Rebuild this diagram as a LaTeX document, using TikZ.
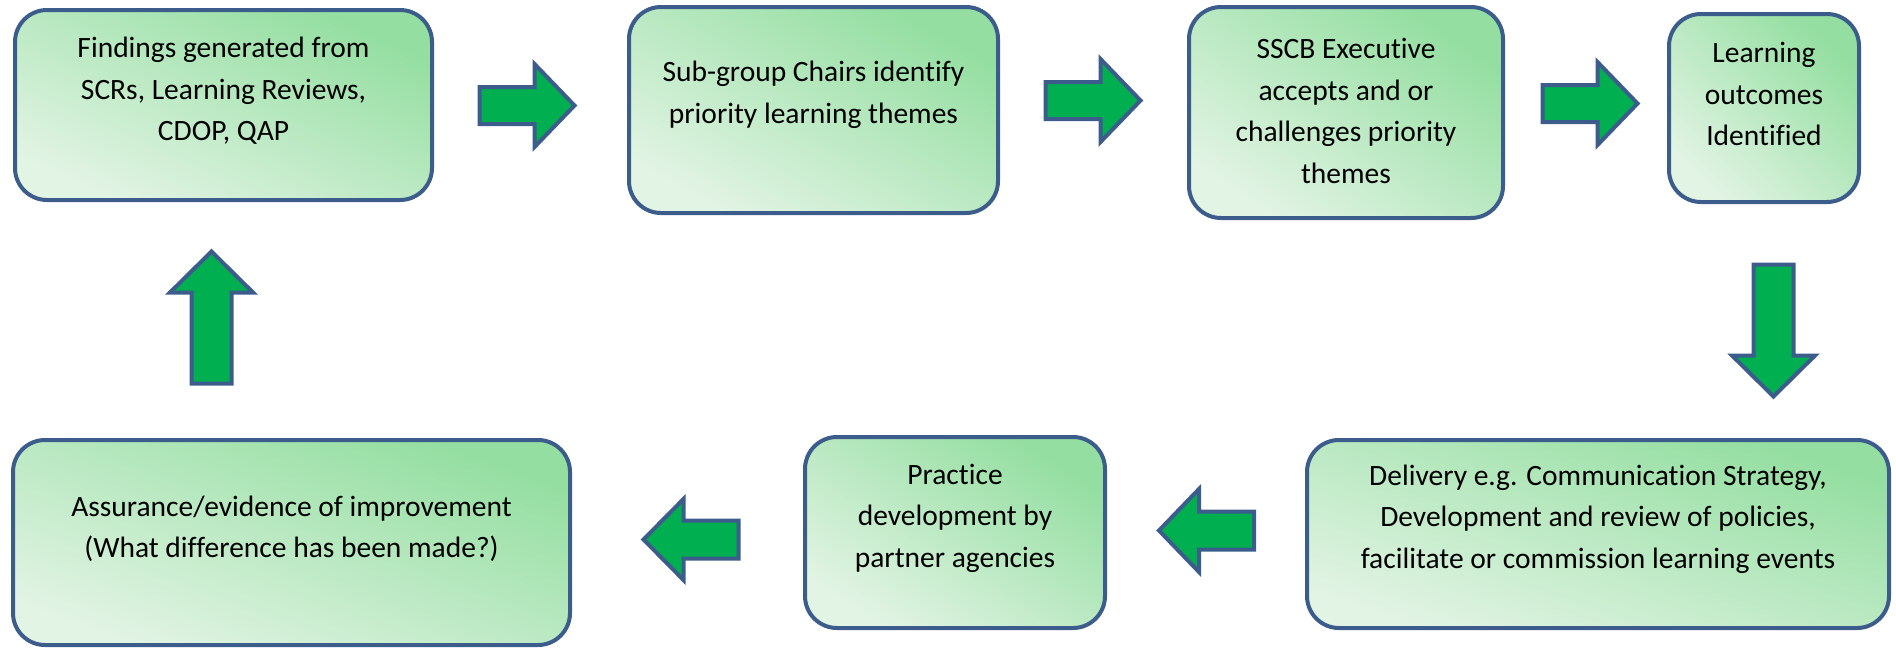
\documentclass[tikz,border=0pt]{standalone}
\usepackage{fontspec}
\setmainfont{Carlito}[Ligatures={NoCommon,NoContextual,NoRequired},RawFeature=-calt]
\definecolor{edge}{HTML}{3C5D8C}
\definecolor{gdark}{HTML}{93DEA0}
\definecolor{glight}{HTML}{E2F4E4}
\definecolor{arrowgreen}{HTML}{00B050}
\begin{document}
\begin{tikzpicture}[x=1pt,y=-1pt,
  stage/.style={draw=edge, line width=4pt, rounded corners=32pt,
    top color=gdark, bottom color=glight, shading angle=#1,
    inner sep=0pt},
  steptext/.style={font=\fontsize{29.5}{41.5}\selectfont, align=center,
    text=black, inner sep=0pt},
  arrowpaint/.style={draw=edge, fill=arrowgreen, line width=4pt, line join=miter},
  % block arrow pointing along +x: length, head width, shaft width, head length
  pics/blockarrow/.style n args={4}{code={
    \draw[arrowpaint] ({-#1/2},{-#3/2}) -- ({#1/2-#4},{-#3/2}) -- ({#1/2-#4},{-#2/2})
      -- ({#1/2},0) -- ({#1/2-#4},{#2/2}) -- ({#1/2-#4},{#3/2}) -- ({-#1/2},{#3/2}) -- cycle;
  }}]
\useasboundingbox (0,0) rectangle (1896,648);

% stage boxes (gradient runs from the lower left to the upper right corner)
\node[stage=-24, minimum width=417pt, minimum height=190pt] (b1) at (223.5,105) {};
\node[stage=-29, minimum width=369pt, minimum height=206pt] (b2) at (813.5,110) {};
\node[stage=-34, minimum width=314pt, minimum height=211pt] (b3) at (1346,112.5) {};
\node[stage=-45, minimum width=190pt, minimum height=188pt] (b4) at (1764,108) {};
\node[stage=-18, minimum width=582pt, minimum height=188pt] (b5) at (1598,534) {};
\node[stage=-32, minimum width=300pt, minimum height=191pt] (b6) at (955,532.5) {};
\node[stage=-20, minimum width=557pt, minimum height=205pt] (b7) at (291.5,542.5) {};

% stage texts
\node[steptext] (t1) at (223.5,91) {Findings generated from\\SCRs, Learning Reviews,\\CDOP, QAP};
\node[steptext] (t2) at (813.5,95) {Sub-group Chairs identify\\priority learning themes};
\node[steptext] (t3) at (1346,111) {SSCB Executive\\accepts and or\\challenges priority\\themes};
\node[steptext] (t4) at (1764,94) {Learning\\outcomes\\Identified};
\node[steptext] (t5) at (1598,519) {Delivery e.g. Communication Strategy,\\Development and review of policies,\\facilitate or commission learning events};
\node[steptext] (t6) at (955,518) {Practice\\development by\\partner agencies};
\node[steptext] (t7) at (291.5,529) {Assurance/evidence of improvement\\(What difference has been made?)};

% flow arrows
\pic at (527,105.5) {blockarrow={95}{83}{37}{40}};
\pic at (1093,100.5) {blockarrow={95}{83}{37}{40}};
\pic at (1590,103.5) {blockarrow={95}{83}{37}{40}};
\pic[rotate=-90] at (1773.5,330.5) {blockarrow={132}{83}{40}{41}};
\pic[rotate=180] at (1206.5,530.5) {blockarrow={95}{83}{38}{40}};
\pic[rotate=180] at (691,539.5) {blockarrow={95}{81}{38}{40}};
\pic[rotate=90] at (211.5,317.5) {blockarrow={132}{83}{40}{41}};
\end{tikzpicture}
\end{document}
